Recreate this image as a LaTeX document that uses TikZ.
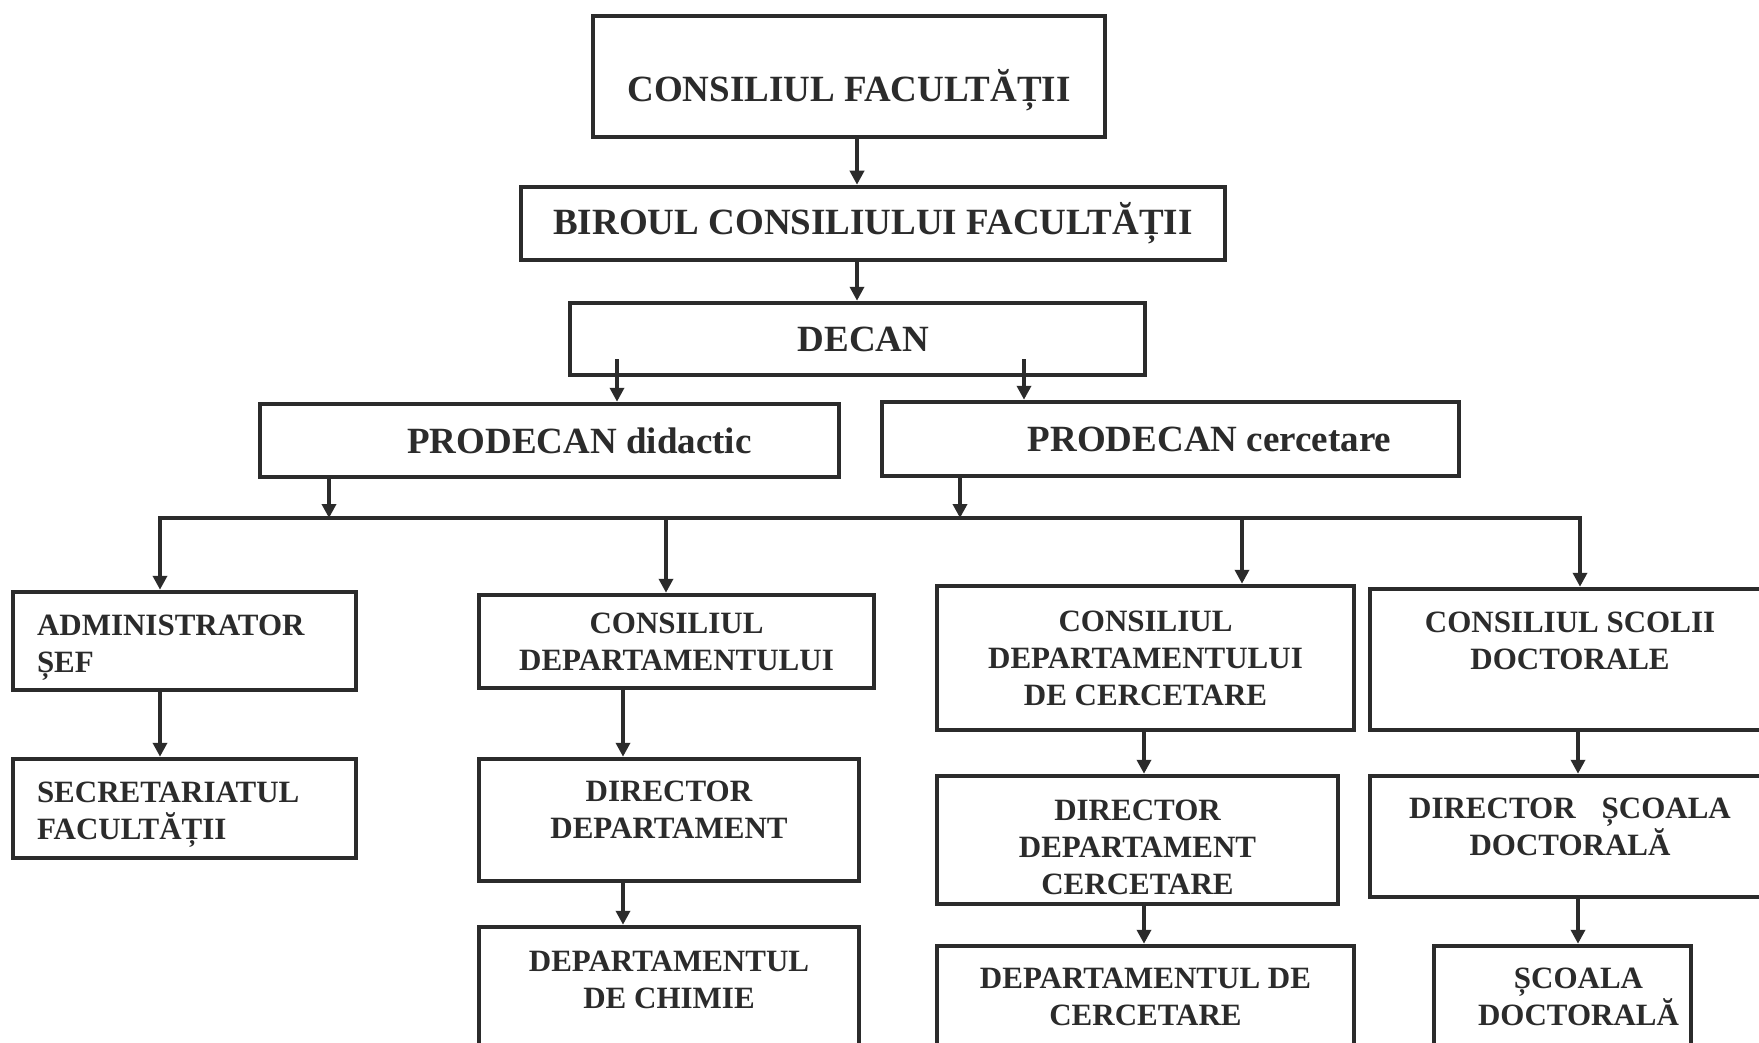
\documentclass[tikz,border=0pt]{standalone}
\usepackage{fontspec}
\setmainfont{Liberation Serif}
\usetikzlibrary{arrows.meta,calc}
\definecolor{ink}{HTML}{2B2B2B}
\begin{document}
\begin{tikzpicture}[x=1pt,y=-1pt,
  box/.style={draw=ink,line width=4.5pt,rectangle,inner sep=0pt,align=center,text=ink,
    font=\fontsize{31}{37}\selectfont\bfseries},
  big/.style={box,font=\fontsize{37}{44}\selectfont\bfseries},
  arr/.style={draw=ink,line width=3.5pt,-{Triangle[length=14pt,width=14pt]}},
  busline/.style={draw=ink,line width=3.5pt,line cap=rect}]
\fill[white] (0,0) rectangle (1759,1043);
\useasboundingbox (0,0) rectangle (1759,1043);

% top levels
\node[big,minimum width=512pt,minimum height=121pt,text height=55pt,text depth=5pt] (cf) at (849,76.5) {CONSILIUL FACULTĂȚII};
\node[big,minimum width=704pt,minimum height=73pt] (bir) at (873,223.5) {BIROUL CONSILIULUI FACULTĂȚII};
\node[big,minimum width=575pt,minimum height=72pt] (dec) at (857.5,339) {\hspace*{12pt}DECAN};
\node[big,minimum width=579pt,minimum height=73pt] (pdid) at (549.5,440.5) {\hspace*{60pt}PRODECAN didactic};
\node[big,minimum width=577pt,minimum height=74pt] (pcer) at (1170.5,439) {\hspace*{78pt}PRODECAN cercetare};

% row 1
\node[box,align=left,text width=295pt,inner xsep=24pt,minimum width=343pt,minimum height=98pt] (adm) at (184.5,641) {\rule{0pt}{33pt}ADMINISTRATOR\\ȘEF};
\node[box,minimum width=395pt,minimum height=93pt] (cdep) at (676.5,641.5) {CONSILIUL\\DEPARTAMENTULUI};
\node[box,minimum width=417pt,minimum height=144pt] (cdc) at (1145.5,658) {CONSILIUL\\DEPARTAMENTULUI\\DE CERCETARE};
\node[box,minimum width=400pt,minimum height=141pt] (csd) at (1570,659.5) {CONSILIUL SCOLII\\DOCTORALE\\\mbox{}};

% row 2
\node[box,align=left,text width=295pt,inner xsep=24pt,minimum width=343pt,minimum height=99pt] (sec) at (184.5,808.5) {\rule{0pt}{33pt}SECRETARIATUL\\FACULTĂȚII};
\node[box,minimum width=380pt,minimum height=122pt] (ddep) at (669,820) {DIRECTOR\\DEPARTAMENT\\[-17pt]\mbox{}};
\node[box,minimum width=401pt,minimum height=128pt] (ddc) at (1137.5,840) {\rule{0pt}{35pt}DIRECTOR\\DEPARTAMENT\\CERCETARE};
\node[box,minimum width=400pt,minimum height=121pt] (dsd) at (1570,836.5) {DIRECTOR\hspace{26pt}ȘCOALA\\DOCTORALĂ\\[-18pt]\mbox{}};

% row 3 (cut by the lower edge)
\node[box,minimum width=380pt,minimum height=125pt] (dch) at (669,989.5) {DEPARTAMENTUL\\DE CHIMIE\\[-18pt]\mbox{}};
\node[box,minimum width=417pt,minimum height=106pt] (ddcer) at (1145.5,999) {DEPARTAMENTUL DE\\CERCETARE\\[-33pt]\mbox{}};
\node[box,minimum width=257pt,minimum height=106pt] (sdoc) at (1562.5,999) {\hspace*{32pt}ȘCOALA\\\hspace*{32pt}DOCTORALĂ\\[-33pt]\mbox{}};

% helper coordinates
\coordinate (k0) at (857,0);
\coordinate (d1) at (617,359);
\coordinate (d2) at (1024,359);
\coordinate (p1) at (329,0);
\coordinate (p2) at (960,0);
\coordinate (b1) at (160,518);
\coordinate (b2) at (666,518);
\coordinate (b3) at (1242,518);
\coordinate (b4) at (1580,518);
\coordinate (k2) at (623,0);
\coordinate (k3) at (1144,0);
\coordinate (k4) at (1578,0);

% connectors
\draw[arr] (cf.south -| k0) -- (bir.north -| k0);
\draw[arr] (bir.south -| k0) -- (dec.north -| k0);
\draw[arr] (d1) -- (pdid.north -| d1);
\draw[arr] (d2) -- (pcer.north -| d2);
\draw[arr] (pdid.south -| p1) -- (p1 |- b1);
\draw[arr] (pcer.south -| p2) -- (p2 |- b1);
\draw[busline] (b1) -- (b4);
\draw[arr] (b1) -- (adm.north -| b1);
\draw[arr] (b2) -- (cdep.north -| b2);
\draw[arr] (b3) -- (cdc.north -| b3);
\draw[arr] (b4) -- (csd.north -| b4);

\draw[arr] (adm.south -| b1) -- (sec.north -| b1);
\draw[arr] (cdep.south -| k2) -- (ddep.north -| k2);
\draw[arr] (ddep.south -| k2) -- (dch.north -| k2);
\draw[arr] (cdc.south -| k3) -- (ddc.north -| k3);
\draw[arr] (ddc.south -| k3) -- (ddcer.north -| k3);
\draw[arr] (csd.south -| k4) -- (dsd.north -| k4);
\draw[arr] (dsd.south -| k4) -- (sdoc.north -| k4);
\end{tikzpicture}
\end{document}
